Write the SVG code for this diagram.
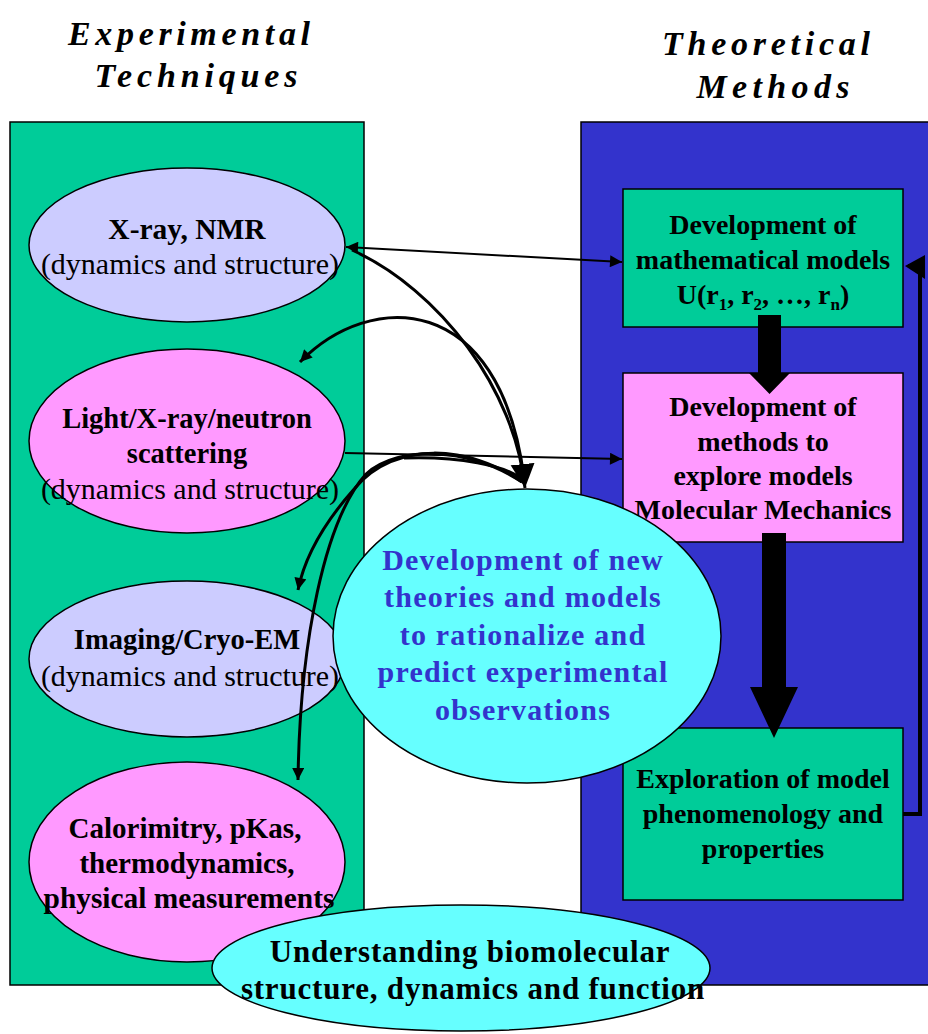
<svg xmlns="http://www.w3.org/2000/svg" width="928" height="1034" viewBox="0 0 928 1034">
  <defs>
    <marker id="head" viewBox="0 0 10 10" refX="10" refY="5" markerWidth="14" markerHeight="12" markerUnits="userSpaceOnUse" orient="auto-start-reverse">
      <path d="M0,0 L10,5 L0,10 z" fill="#000"/>
    </marker>
    <marker id="headBig" viewBox="0 0 10 10" refX="10" refY="5" markerWidth="24" markerHeight="28" markerUnits="userSpaceOnUse" orient="auto">
      <path d="M0,0 L10,5 L0,10 z" fill="#000"/>
    </marker>
  </defs>
  <style>
    .panel { stroke: #000; stroke-width: 1.5; }
    .node { stroke: #000; stroke-width: 1.5; }
    .t { font-family: "Liberation Serif", "DejaVu Serif", "Times New Roman", serif; fill: #000; text-anchor: middle; }
    .b { font-weight: bold; }
    .title { font-family: "Liberation Serif", "DejaVu Serif", serif; font-style: italic; font-weight: bold; font-size: 34px; fill: #000; text-anchor: middle; }
    .blue { fill: #3333cc; font-size: 30px; letter-spacing: 1.2px; }
    .thin { fill: none; stroke: #000; stroke-width: 2; }
    .curve { fill: none; stroke: #000; stroke-width: 3; }
  </style>

  <rect width="928" height="1034" fill="#fff"/>

  <!-- column headings -->
  <g id="heading-experimental">
    <text class="title" x="189" y="45" textLength="242">Experimental</text>
    <text class="title" x="196" y="87" textLength="203">Techniques</text>
  </g>
  <g id="heading-theoretical">
    <text class="title" x="766" y="55" textLength="208">Theoretical</text>
    <text class="title" x="773" y="98" textLength="153">Methods</text>
  </g>

  <!-- panels -->
  <g id="panel-experimental">
    <rect class="panel" x="10" y="122" width="354" height="863" fill="#00cc99"/>
  </g>
  <g id="panel-theoretical">
    <rect class="panel" x="581" y="122" width="360" height="863" fill="#3333cc"/>
  </g>

  <!-- theoretical method boxes -->
  <g id="box-models">
    <rect class="node" x="623" y="189" width="280" height="138" fill="#00cc99"/>
    <text class="t b" font-size="28" x="763" y="234">Development of</text>
    <text class="t b" font-size="28" x="763" y="269">mathematical models</text>
    <text class="t b" font-size="28" x="763" y="304">U(r<tspan font-size="17" dy="6">1</tspan><tspan dy="-6">, r</tspan><tspan font-size="17" dy="6">2</tspan><tspan dy="-6">, …, r</tspan><tspan font-size="17" dy="6">n</tspan><tspan dy="-6">)</tspan></text>
  </g>
  <g id="box-methods">
    <rect class="node" x="623" y="373" width="280" height="169" fill="#ff99ff"/>
    <text class="t b" font-size="28" x="763" y="416">Development of</text>
    <text class="t b" font-size="28" x="763" y="451">methods to</text>
    <text class="t b" font-size="28" x="763" y="485">explore models</text>
    <text class="t b" font-size="28" x="763" y="519">Molecular Mechanics</text>
  </g>
  <g id="box-exploration">
    <rect class="node" x="623" y="728" width="280" height="172" fill="#00cc99"/>
    <text class="t b" font-size="28" x="763" y="788">Exploration of model</text>
    <text class="t b" font-size="28" x="763" y="823">phenomenology and</text>
    <text class="t b" font-size="28" x="763" y="858">properties</text>
  </g>

  <!-- experimental technique ellipses -->
  <g id="node-xray-nmr">
    <ellipse class="node" cx="187" cy="245" rx="158" ry="77" fill="#ccccff"/>
    <text class="t b" font-size="29.5" x="187" y="239">X-ray, NMR</text>
    <text class="t" font-size="30" x="190" y="274">(dynamics and structure)</text>
  </g>
  <g id="node-scattering">
    <ellipse class="node" cx="187" cy="441" rx="158" ry="92" fill="#ff99ff"/>
    <text class="t b" font-size="28.5" x="187" y="428">Light/X-ray/neutron</text>
    <text class="t b" font-size="28.5" x="187" y="463">scattering</text>
    <text class="t" font-size="30" x="190" y="499">(dynamics and structure)</text>
  </g>
  <g id="node-imaging">
    <ellipse class="node" cx="187" cy="659" rx="158" ry="78" fill="#ccccff"/>
    <text class="t b" font-size="28.5" x="187" y="649">Imaging/Cryo-EM</text>
    <text class="t" font-size="30" x="190" y="686">(dynamics and structure)</text>
  </g>
  <g id="node-calorimetry">
    <ellipse class="node" cx="187" cy="862" rx="158" ry="100" fill="#ff99ff"/>
    <text class="t b" font-size="29" x="185" y="838">Calorimitry, pKas,</text>
    <text class="t b" font-size="29" x="187" y="873">thermodynamics,</text>
    <text class="t b" font-size="29.4" x="189" y="908">physical measurements</text>
  </g>

  <!-- central theory ellipse -->
  <g id="node-new-theories">
    <ellipse class="node" cx="527" cy="636" rx="194" ry="147" fill="#66ffff"/>
    <text class="t b blue" x="523" y="570">Development of new</text>
    <text class="t b blue" x="523" y="607">theories and models</text>
    <text class="t b blue" x="523" y="645">to rationalize and</text>
    <text class="t b blue" x="523" y="682">predict experimental</text>
    <text class="t b blue" x="523" y="720">observations</text>
  </g>

  <!-- connectors -->
  <g id="connectors">
    <!-- straight links to the theory boxes -->
    <path class="thin" d="M346 247 L622 262" marker-start="url(#head)" marker-end="url(#head)"/>
    <path class="thin" d="M345 453 L622 459" marker-end="url(#head)"/>
    <!-- curved links between the theory ellipse and the techniques -->
    <path class="curve" d="M352 250 C440 290 515 390 525 488" marker-end="url(#headBig)"/>
    <path class="curve" d="M524 478 C500 290 370 290 300 362" marker-end="url(#head)"/>
    <path class="curve" d="M522 482 C470 445 395 440 355 488 C322 525 304 560 298 590" marker-end="url(#head)"/>
    <path class="curve" d="M522 482 C470 448 400 444 366 474 C325 520 300 640 298 780" marker-end="url(#head)"/>
    <path class="curve" d="M404 458 C460 456 505 466 520 478"/>
    <!-- block arrows down the method column -->
    <polygon points="758,315 781,315 781,373 790,373 769.5,394 749,373 758,373" fill="#000"/>
    <polygon points="762,533 786,533 786,687 798,687 774,738 750,687 762,687" fill="#000"/>
    <!-- feedback loop from exploration back to the models -->
    <path fill="none" stroke="#000" stroke-width="4" d="M903 814 L920 814 L920 266 L908 266"/>
    <polygon points="905,266 925,255 925,279" fill="#000"/>
  </g>

  <!-- outcome ellipse -->
  <g id="node-understanding">
    <ellipse class="node" cx="461" cy="968" rx="249" ry="63" fill="#66ffff"/>
    <text class="t b" font-size="31" letter-spacing="0.8" x="470" y="962">Understanding biomolecular</text>
    <text class="t b" font-size="31" letter-spacing="0.8" x="473" y="999">structure, dynamics and function</text>
  </g>
</svg>
